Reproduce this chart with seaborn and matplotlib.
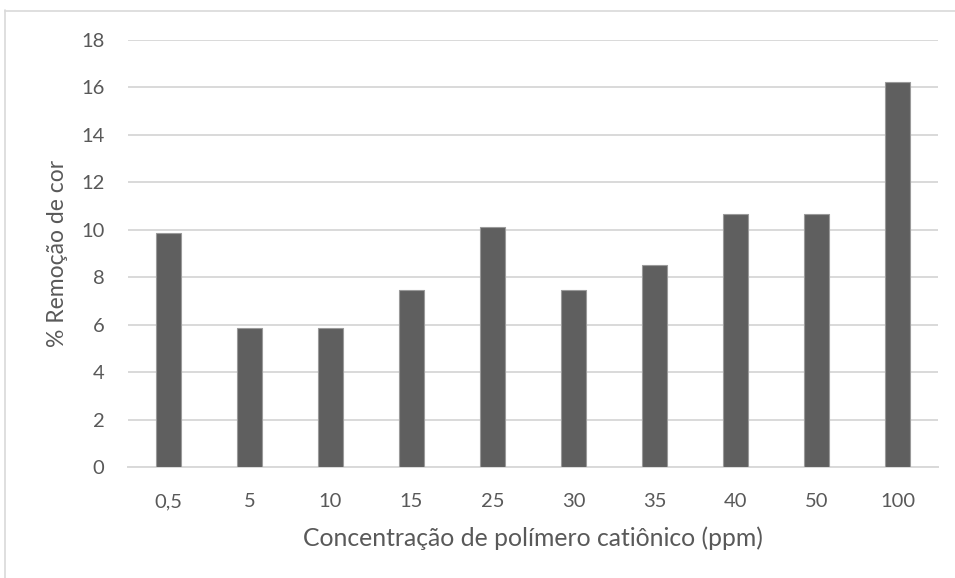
import matplotlib
matplotlib.use("Agg")
import matplotlib.pyplot as plt
from matplotlib.lines import Line2D
import seaborn as sns
import pandas as pd

concentracoes = ["0,5", "5", "10", "15", "25", "30", "35", "40", "50", "100"]
remocao_cor = [9.85, 5.85, 5.85, 7.45, 10.1, 7.45, 8.5, 10.65, 10.65, 16.25]

df = pd.DataFrame({"conc": concentracoes, "remocao": remocao_cor})

sns.set_theme(style="white")
plt.rcParams["font.family"] = ["Lato", "DejaVu Sans"]

W, H = 955, 578
x0, x1, y_top, y_bot = 128, 938, 40, 467
fig = plt.figure(figsize=(W / 100, H / 100), dpi=100)
ax = fig.add_axes([x0 / W, 1 - y_bot / H, (x1 - x0) / W, (y_bot - y_top) / H])

sns.barplot(data=df, x="conc", y="remocao", order=concentracoes, color="#5f5f5f",
            width=0.31, saturation=1, edgecolor="#9a9a9a", linewidth=0.8, ax=ax, zorder=3)

ax.set_ylim(0, 18)
ax.set_xlim(-0.5, len(concentracoes) - 0.5)
ax.set_yticks(range(0, 19, 2))
ax.yaxis.grid(True, color="#d9d9d9", linewidth=1.4)
ax.set_axisbelow(True)
for s in ["top", "right", "left"]:
    ax.spines[s].set_visible(False)
ax.spines["bottom"].set_color("#d9d9d9")
ax.spines["bottom"].set_linewidth(1.4)
ax.tick_params(axis="both", length=0, labelsize=14.5, labelcolor="#595959")
ax.tick_params(axis="y", pad=17)
ax.tick_params(axis="x", pad=19)

ax.set_xlabel("Concentração de polímero catiônico (ppm)", fontsize=17.8, color="#595959",
              va="baseline")
ax.xaxis.set_label_coords(0.5, (y_bot - 546) / (y_bot - y_top))
ax.set_ylabel("% Remoção de cor", fontsize=16.5, color="#595959", va="center")
ax.yaxis.set_label_coords((57 - x0) / (x1 - x0), 0.5)

# outer chart frame (left and top edges)
fig.add_artist(Line2D([4.5 / W, 4.5 / W], [0, 1 - 10 / H], color="#d9d9d9", linewidth=1.2))
fig.add_artist(Line2D([4.5 / W, 1], [1 - 10.5 / H, 1 - 10.5 / H], color="#d9d9d9", linewidth=1.2))

fig.savefig("out.png", dpi=100)
